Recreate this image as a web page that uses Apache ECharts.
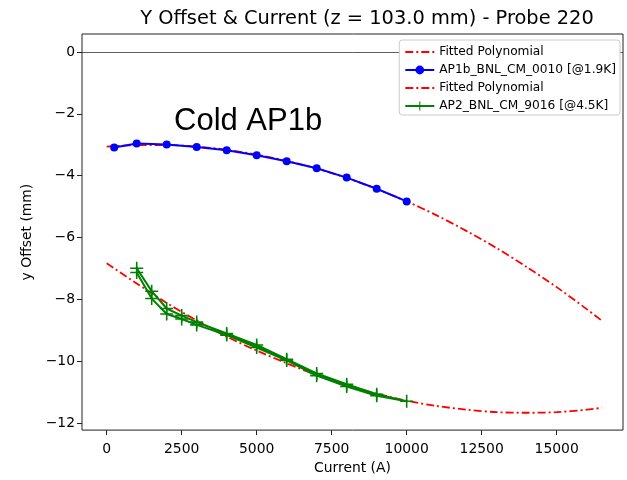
<!DOCTYPE html>
<html><head><meta charset="utf-8">
<script src="https://cdn.jsdelivr.net/npm/echarts@6/dist/echarts.min.js"></script>
<style>html,body{margin:0;padding:0;background:#fff}#c{width:627px;height:480px}</style>
</head><body><div id="c"></div>
<script>
// ---- data ----
const fitCurrent = [0,1000,2000,3000,4000,5000,6000,7000,8000,9000,10000,11000,12000,13000,14000,15000,16000,16500];
const fit1Offset = [-3.06,-3.01,-3.01,-3.06,-3.16,-3.32,-3.52,-3.77,-4.07,-4.43,-4.83,-5.28,-5.79,-6.34,-6.95,-7.60,-8.31,-8.68];
const fit2Offset = [-6.83,-7.48,-8.11,-8.68,-9.20,-9.65,-10.06,-10.44,-10.77,-11.04,-11.27,-11.44,-11.56,-11.64,-11.66,-11.64,-11.56,-11.50];
const ap1bCurrent = [250,1000,2000,3000,4000,5000,6000,7000,8000,9000,10000];
const ap1bOffset = [-3.09,-2.96,-2.99,-3.07,-3.18,-3.34,-3.53,-3.76,-4.06,-4.42,-4.83];
const ap2Current = [1000,1500,2000,2500,3000,4000,5000,6000,7000,8000,9000,10000,9000,8000,7000,6000,5000,4000,3000,2500,2000,1500,1000];
const ap2Offset = [-6.99,-7.73,-8.29,-8.52,-8.73,-9.10,-9.47,-9.93,-10.39,-10.74,-11.06,-11.29,-11.11,-10.81,-10.46,-9.97,-9.55,-9.15,-8.82,-8.63,-8.47,-7.97,-7.13];
const zeroLevel = 0;
const xTicks = [0,2500,5000,7500,10000,12500,15000];
const yTicks = [-12,-10,-8,-6,-4,-2,0];
const seriesNames = ['Fitted Polynomial','AP1b_BNL_CM_0010 [@1.9K]','Fitted Polynomial ','AP2_BNL_CM_9016 [@4.5K]'];

const zip = (xs, ys) => xs.map((x, i) => [x, ys[i]]);
const FONT = 'DejaVu Sans';
const minus = v => String(v).replace('-', '\u2212');
const plus = 'path://M-1.2,-10L1.2,-10L1.2,-1.2L10,-1.2L10,1.2L1.2,1.2L1.2,10L-1.2,10L-1.2,1.2L-10,1.2L-10,-1.2L-1.2,-1.2Z';
const dashDot = [8, 3, 2, 3];

const chart = echarts.init(document.getElementById('c'), null, {renderer: 'canvas'});
const axisText = {fontFamily: FONT, fontSize: 13.9, color: '#000'};
chart.setOption({
  animation: false,
  backgroundColor: '#fff',
  grid: {left: 82, right: 4, top: 34, bottom: 42, show: true, borderColor: '#222', borderWidth: 1},
  xAxis: {
    type: 'value', min: -823, max: 17210,
    splitLine: {show: false},
    axisLine: {show: false, onZero: false},
    axisTick: {show: true, length: 5, customValues: xTicks, lineStyle: {color: '#222'}},
    axisLabel: Object.assign({customValues: xTicks, margin: 12, formatter: minus}, axisText),
    name: 'Current (A)', nameLocation: 'middle', nameGap: 27, nameTextStyle: axisText
  },
  yAxis: {
    type: 'value', min: -12.22, max: 0.58,
    splitLine: {show: false},
    axisLine: {show: false, onZero: false},
    axisTick: {show: true, length: 5, customValues: yTicks, lineStyle: {color: '#222'}},
    axisLabel: Object.assign({customValues: yTicks, margin: 7, formatter: minus}, axisText),
    name: 'y Offset (mm)', nameLocation: 'middle', nameGap: 35, nameTextStyle: axisText
  },
  legend: {
    orient: 'vertical', right: 7, top: 40, z: 10,
    padding: [5, 4, 2, 5], itemWidth: 29, itemHeight: 11, itemGap: 4,
    backgroundColor: '#fff', borderColor: '#ccc', borderWidth: 1, borderRadius: 3,
    textStyle: {fontFamily: FONT, fontSize: 12.2, color: '#000', lineHeight: 14},
    selectedMode: false,
    data: [
      {name: seriesNames[0], itemStyle: {opacity: 0}},
      seriesNames[1],
      {name: seriesNames[2], itemStyle: {opacity: 0}},
      seriesNames[3]
    ]
  },
  graphic: [
    {type: 'text', x: 367, y: 19, style: {text: 'Y Offset & Current (z = 103.0 mm) - Probe 220', fontFamily: FONT, fontSize: 19.4, fill: '#000', align: 'center', verticalAlign: 'middle'}},
    {type: 'text', x: 174, y: 121, style: {text: 'Cold AP1b', fontFamily: 'Liberation Sans', fontSize: 31, fill: '#000', align: 'left', verticalAlign: 'middle'}}
  ],
  series: [
    {
      name: 'zero', type: 'line', data: [], symbol: 'none',
      markLine: {silent: true, symbol: 'none', label: {show: false},
        lineStyle: {color: '#333', width: 0.8, type: 'solid'}, data: [{yAxis: zeroLevel}]},
      z: 1
    },
    {
      name: seriesNames[0], type: 'line', data: zip(fitCurrent, fit1Offset),
      symbol: 'none', smooth: 0.3, color: '#ff0000',
      lineStyle: {color: '#ff0000', width: 1.8, type: dashDot}, z: 2
    },
    {
      name: seriesNames[1], type: 'line', data: zip(ap1bCurrent, ap1bOffset),
      symbol: 'circle', symbolSize: 8, color: '#0000ff',
      itemStyle: {color: '#0000ff'},
      lineStyle: {color: '#0000ff', width: 2}, z: 3
    },
    {
      name: seriesNames[2], type: 'line', data: zip(fitCurrent, fit2Offset),
      symbol: 'none', smooth: 0.3, color: '#ff0000',
      lineStyle: {color: '#ff0000', width: 1.8, type: dashDot}, z: 4
    },
    {
      name: seriesNames[3], type: 'line', data: zip(ap2Current, ap2Offset),
      symbol: plus, symbolSize: 13, color: '#008000',
      itemStyle: {color: '#008000'},
      lineStyle: {color: '#008000', width: 2}, z: 5
    }
  ]
});
</script></body></html>
